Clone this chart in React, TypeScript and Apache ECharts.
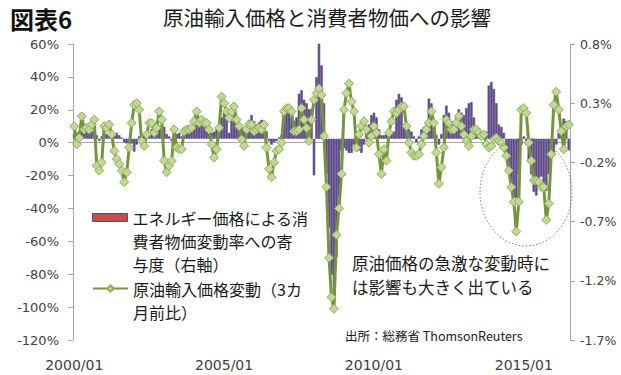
import React, { useEffect, useRef } from 'react';
import * as echarts from 'echarts';

// ---- data ----
const startYear = 2000;
const monthCount = 199;
const categories: string[] = [];
for (let i = 0; i < monthCount; i++) {
  const y = startYear + Math.floor(i / 12);
  const m = (i % 12) + 1;
  categories.push(`${y}/${m < 10 ? '0' + m : m}`);
}

// energy price contribution to CPI change (%, right axis)
const energyContribution = [
  0.04, 0.05, 0.06, 0.08, 0.08, 0.06, 0.05, 0.06, 0.07, 0.03, -0.02, 0.02,
  0.05, 0.04, 0.03, 0.02, 0.04, 0.05, 0.03, 0.01, -0.03, -0.04, -0.03, -0.04,
  -0.11, -0.05, 0.02, 0.04, 0.03, 0.02, 0.05, 0.08, 0.05, 0.06, 0.1, 0.11,
  0.1, 0.04, 0.02, -0.02, 0.03, 0.04, 0.05, 0.02, 0.06, 0.07, 0.08, 0.06,
  0.08, 0.12, 0.13, 0.14, 0.12, 0.1, 0.08, 0.05, 0.06, 0.08, 0.12, 0.18,
  0.22, 0.2, 0.05, 0.15, 0.2, 0.18, 0.12, 0.1, 0.08, 0.1, 0.16, 0.2,
  0.15, 0.12, 0.14, 0.16, 0.14, 0.06, -0.02, -0.05, -0.03, -0.02, 0.01, 0.03,
  0.22, 0.28, 0.26, 0.18, 0.15, 0.18, 0.38, 0.41, 0.33, 0.3, 0.25, 0.25,
  -0.31, 0.52, 0.82, 0.62, 0.3, -0.3, -0.75, -1.15, -1.36, -1.0, -0.5, -0.1,
  -0.08, -0.1, -0.12, -0.12, -0.05, -0.08, -0.1, -0.12, -0.05, 0.05, 0.12, 0.2,
  0.22, 0.18, 0.08, 0.03, 0.03, 0.04, 0.04, 0.05, 0.06, 0.33, 0.38, 0.35,
  0.12, 0.1, 0.08, 0.06, 0.02, -0.03, 0.02, 0.08, 0.1, 0.12, 0.34, 0.3,
  0.1, 0.03, -0.05, 0.04, 0.2, 0.28, 0.22, 0.15, 0.12, 0.18, 0.25, 0.22,
  0.2, 0.26, 0.3, 0.31, 0.18, 0.08, 0.05, 0.04, 0.05, 0.06, 0.45, 0.48,
  0.42, 0.3, 0.12, 0.1, 0.05, -0.15, -0.27, -0.42, -0.52, -0.5, -0.3, -0.05,
  0.02, -0.05, -0.2, -0.3, -0.45, -0.48, -0.4, -0.32, -0.38, -0.44, -0.3, -0.15,
  -0.12, -0.05, 0.05, 0.12, 0.17, 0.15, -0.1,
];

// crude oil import price change vs 3 months earlier (%, left axis)
const crudeChange3m = [
  10, -1, 3, 16, 8, 9, 8, 11, 14, -14, -17, -12,
  10, 9, 11, 5, -5, -10, -13, -17, -24, -18, -3, 12,
  23, 24, 20, 1, -2, 5, 12, 12, 6, 9, 19, 14,
  -11, -18, -14, -11, 8, -3, -4, -4, 7, 8, 8, 9,
  13, 19, 12, 14, 12, 12, 8, -1, -9, -4, 9, 28,
  24, 19, 15, 19, 22, 14, 10, 2, -2, 8, 11, 11,
  7, 8, 9, 8, 11, -3, -16, -21, -12, -5, -4, 0,
  19, 21, 21, 19, 7, 7, 8, 21, 14, 9, 1, 14,
  26, 30, 33, 29, 4, -27, -70, -94, -101, -56, -40, -19,
  20, 30, 36, 25, 19, -3, 5, 10, 13, 8, 0, 4,
  10, 6, -7, -19, -4, -11, 6, 13, 19, 18, 20, 22,
  22, 10, 0, -6, -8, -8, -7, -1, 4, 8, 12, 19,
  12, -6, -25, -15, -3, 14, 12, 8, 8, 12, 16, 10,
  5, 1, -2, 4, 8, 8, 6, 4, 5, -1, -3, -2,
  2, 3, 1, 0, -3, -8, -17, -27, -36, -54, -36, 20,
  21, 18, 0, -11, -23, -23, -24, -27, -27, -47, -37, -7,
  23, 31, 20, 7, -4, 10, 11,
];

const rightTickLabels = ['-1.7%', '-1.2%', '-0.7%', '-0.2%', '0.3%', '0.8%'];

const barName = 'エネルギー価格による消費者物価変動率への寄与度（右軸）';
const lineName = '原油輸入価格変動（3カ月前比）';

const JP = '"Noto Sans CJK JP", "Noto Sans", sans-serif';
const NUM = '"DejaVu Sans", sans-serif';

export default function App() {
  const ref = useRef<HTMLDivElement>(null);
  useEffect(() => {
    if (!ref.current) return;
    const chart = echarts.init(ref.current, undefined, { renderer: 'svg' });
    const legendText = { fontSize: 16, lineHeight: 23, fontFamily: JP, color: '#1a1a1a' };
    chart.setOption({
      animation: false,
      backgroundColor: '#ffffff',
      grid: { left: 73, right: 51, top: 44, bottom: 35, containLabel: false, outerBoundsMode: 'none' },
      xAxis: [
        {
          type: 'category',
          data: categories,
          position: 'top',
          boundaryGap: true,
          axisLine: { show: true, onZero: true, onZeroAxisIndex: 0, lineStyle: { color: '#a6a6a6', width: 1 } },
          axisTick: { show: false },
          axisLabel: { show: false },
          splitLine: { show: false },
        },
        {
          type: 'category',
          data: categories,
          position: 'bottom',
          boundaryGap: true,
          axisLine: { show: false },
          axisTick: { show: false },
          axisLabel: {
            interval: (index: number) => index % 60 === 0,
            fontSize: 14,
            fontFamily: NUM,
            color: '#404040',
            margin: 18,
          },
          splitLine: { show: false },
        },
      ],
      yAxis: [
        {
          type: 'value',
          min: -120,
          max: 60,
          interval: 20,
          position: 'left',
          axisLine: { show: true, lineStyle: { color: '#a6a6a6' } },
          axisTick: { show: true, length: 5, lineStyle: { color: '#a6a6a6' } },
          axisLabel: { formatter: (v: number) => `${v}%`, fontSize: 13, fontFamily: NUM, color: '#404040', margin: 14 },
          splitLine: { show: false },
        },
        {
          type: 'value',
          min: 0,
          max: 2.5,
          interval: 0.5,
          position: 'right',
          axisLine: { show: true, lineStyle: { color: '#a6a6a6' } },
          axisTick: { show: true, length: 5, lineStyle: { color: '#a6a6a6' } },
          axisLabel: {
            formatter: (v: number) => rightTickLabels[Math.round(v / 0.5)],
            fontSize: 12.5,
            fontFamily: NUM,
            color: '#404040',
            margin: 10,
          },
          splitLine: { show: false },
        },
        {
          type: 'value',
          min: -1.7,
          max: 0.8,
          position: 'right',
          show: false,
          splitLine: { show: false },
        },
      ],
      legend: [
        {
          data: [{ name: barName, icon: 'rect', itemStyle: { color: '#C0504D', borderColor: '#604A7B', borderWidth: 1 } }],
          left: 92,
          top: 160,
          padding: 0,
          orient: 'vertical',
          itemWidth: 35,
          itemHeight: 8,
          selectedMode: false,
          formatter: () => '\n\nエネルギー価格による消\n費者物価変動率への寄\n与度（右軸）',
          textStyle: legendText,
        },
        {
          data: [lineName],
          left: 92,
          top: 254,
          padding: 0,
          orient: 'vertical',
          itemWidth: 35,
          itemHeight: 8,
          selectedMode: false,
          formatter: () => '\n原油輸入価格変動（3カ\n月前比）',
          textStyle: legendText,
        },
      ],
      series: [
        {
          name: barName,
          type: 'bar',
          xAxisIndex: 0,
          yAxisIndex: 2,
          data: energyContribution,
          barCategoryGap: '0%',
          itemStyle: { color: '#5F4B8B', borderColor: '#5F4B8B', borderWidth: 0.6 },
          z: 2,
        },
        {
          name: lineName,
          type: 'line',
          xAxisIndex: 0,
          yAxisIndex: 0,
          data: crudeChange3m,
          symbol: 'diamond',
          symbolSize: 9,
          showAllSymbol: true,
          lineStyle: { color: '#77933C', width: 3 },
          itemStyle: { color: '#C3D69B', borderColor: '#8EB04E', borderWidth: 1 },
          z: 3,
        },
      ],
      graphic: [
        { type: 'text', left: 10, top: 6, style: { text: '図表6', fontSize: 24, fontWeight: 'bold', fontFamily: JP, fill: '#111' } },
        { type: 'text', left: 163, top: 7, style: { text: '原油輸入価格と消費者物価への影響', fontSize: 20.5, fontFamily: JP, fill: '#1a1a1a' } },
        { type: 'text', left: 352, top: 251, style: { text: '原油価格の急激な変動時に\nは影響も大きく出ている', fontSize: 16.5, lineHeight: 24, fontFamily: JP, fill: '#1a1a1a' } },
        { type: 'text', left: 345, top: 329, style: { text: '出所：総務省 ThomsonReuters', fontSize: 12.5, fontFamily: JP, fill: '#1a1a1a' } },
        {
          type: 'ellipse',
          shape: { cx: 526, cy: 192, rx: 46, ry: 54 },
          style: { fill: 'none', stroke: '#7f7f7f', lineWidth: 1, lineDash: [1.5, 2] },
          z: 100,
        },
      ],
    });
    return () => chart.dispose();
  }, []);
  return <div ref={ref} style={{ position: 'absolute', left: 0, top: 0, width: 621, height: 375 }} />;
}
